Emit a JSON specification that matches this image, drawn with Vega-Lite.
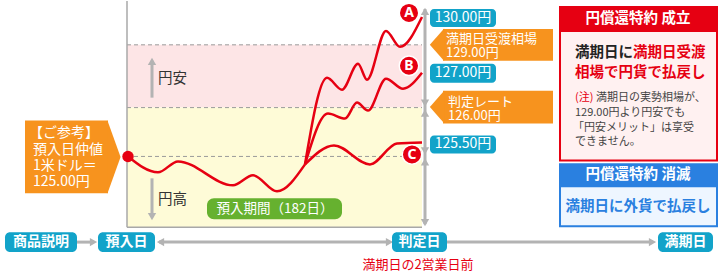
{
  "$schema": "https://vega.github.io/schema/vega-lite/v6.json",
  "width": 720,
  "height": 272,
  "autosize": {"type": "fit", "contains": "padding"},
  "padding": 0,
  "background": "#ffffff",
  "config": {"view": {"stroke": null}, "font": "Noto Sans CJK JP", "text": {"font": "Noto Sans CJK JP"}},
  "encoding": {
    "x": {"field": "x", "type": "quantitative", "scale": {"domain": [0, 720], "nice": false, "zero": false}, "axis": null},
    "y": {"field": "y", "type": "quantitative", "scale": {"domain": [0, 272], "reverse": true, "nice": false, "zero": false}, "axis": null}
  },
  "layer": [
    {"data": {"values": [{"x": 127, "x2": 422, "y": 44, "y2": 107}]},
     "mark": {"type": "rect", "fill": "#fde5e6"},
     "encoding": {"x2": {"field": "x2"}, "y2": {"field": "y2"}}},
    {"data": {"values": [{"x": 127, "x2": 422, "y": 107, "y2": 227}]},
     "mark": {"type": "rect", "fill": "#fefbd7"},
     "encoding": {"x2": {"field": "x2"}, "y2": {"field": "y2"}}},
    {"data": {"values": [{"x": 127, "x2": 422, "y": 44}, {"x": 127, "x2": 422, "y": 107}, {"x": 127, "x2": 422, "y": 156}]},
     "mark": {"type": "rule", "stroke": "#9a9a9a", "strokeWidth": 1, "strokeDash": [4, 3]},
     "encoding": {"x2": {"field": "x2"}}},
    {"data": {"values": [{"x": 127, "y": 0, "x2": 127, "y2": 227}, {"x": 127, "y": 227, "x2": 422, "y2": 227}]},
     "mark": {"type": "rule", "stroke": "#a8a8a8", "strokeWidth": 1.5},
     "encoding": {"x2": {"field": "x2"}, "y2": {"field": "y2"}}},
    {"data": {"values": [
      {"x": 425, "y": 8, "x2": 425, "y2": 224},
      {"x": 152, "y": 60, "x2": 152, "y2": 97},
      {"x": 152, "y": 178, "x2": 152, "y2": 216},
      {"x": 77, "y": 242, "x2": 94, "y2": 242},
      {"x": 159, "y": 242, "x2": 390, "y2": 242},
      {"x": 447, "y": 242, "x2": 653, "y2": 242}
    ]},
     "mark": {"type": "rule", "stroke": "#b3b3b3", "strokeWidth": 3},
     "encoding": {"x2": {"field": "x2"}, "y2": {"field": "y2"}}},
    {"data": {"values": [
      {"x": 425, "y": 10.5, "d": "up"},
      {"x": 425, "y": 102.5, "d": "down"},
      {"x": 425, "y": 112.5, "d": "up"},
      {"x": 425, "y": 150.5, "d": "down"},
      {"x": 425, "y": 161.5, "d": "up"},
      {"x": 425, "y": 222.5, "d": "down"},
      {"x": 152, "y": 60.5, "d": "up"},
      {"x": 152, "y": 216.5, "d": "down"},
      {"x": 93.5, "y": 242, "d": "right"},
      {"x": 160.5, "y": 242, "d": "left"},
      {"x": 389.5, "y": 242, "d": "right"},
      {"x": 652.5, "y": 242, "d": "right"}
    ]},
     "mark": {"type": "point", "filled": true, "fill": "#b3b3b3", "opacity": 1, "size": 70, "strokeWidth": 0},
     "encoding": {"shape": {"field": "d", "type": "nominal", "scale": {"domain": ["up", "down", "left", "right"], "range": ["triangle-up", "triangle-down", "triangle-left", "triangle-right"]}, "legend": null}}},
    {"data": {"values": [
      {"s": "base", "x": 128, "y": 156}, {"s": "base", "x": 158, "y": 172}, {"s": "base", "x": 178, "y": 161},
      {"s": "base", "x": 233, "y": 185}, {"s": "base", "x": 253, "y": 175}, {"s": "base", "x": 277, "y": 191},
      {"s": "base", "x": 305, "y": 164},
      {"s": "A", "x": 305, "y": 164}, {"s": "A", "x": 327, "y": 77}, {"s": "A", "x": 342, "y": 89},
      {"s": "A", "x": 358, "y": 63}, {"s": "A", "x": 367, "y": 79}, {"s": "A", "x": 386, "y": 30},
      {"s": "A", "x": 400, "y": 46}, {"s": "A", "x": 422, "y": 16},
      {"s": "B", "x": 305, "y": 164}, {"s": "B", "x": 328, "y": 113}, {"s": "B", "x": 345, "y": 118},
      {"s": "B", "x": 357, "y": 102}, {"s": "B", "x": 368, "y": 110}, {"s": "B", "x": 386, "y": 78},
      {"s": "B", "x": 403, "y": 88}, {"s": "B", "x": 422, "y": 72},
      {"s": "C", "x": 305, "y": 164}, {"s": "C", "x": 334, "y": 145}, {"s": "C", "x": 370, "y": 164},
      {"s": "C", "x": 397, "y": 143}, {"s": "C", "x": 422, "y": 142}
    ]},
     "mark": {"type": "line", "stroke": "#e60012", "strokeWidth": 2.5, "interpolate": "monotone"},
     "encoding": {"detail": {"field": "s", "type": "nominal"}}},
    {"data": {"values": [{"x": 128, "y": 156}]},
     "mark": {"type": "point", "filled": true, "fill": "#e60012", "opacity": 1, "size": 130, "strokeWidth": 0}},
    {"data": {"values": [{"x": 409, "y": 12, "t": "A"}, {"x": 409, "y": 65, "t": "B"}, {"x": 412, "y": 154, "t": "C"}]},
     "mark": {"type": "point", "shape": "circle", "filled": true, "fill": "#e60012", "opacity": 1, "size": 380, "stroke": "#ffffff", "strokeWidth": 1.5}},
    {"data": {"values": [{"x": 409, "y": 12.5, "t": "A"}, {"x": 409, "y": 65.5, "t": "B"}, {"x": 412, "y": 154.5, "t": "C"}]},
     "mark": {"type": "text", "color": "#ffffff", "fontSize": 14, "fontWeight": "bold", "align": "center", "baseline": "middle", "font": "Noto Sans"},
     "encoding": {"text": {"field": "t"}}},
    {"data": {"values": [
      {"x": 430, "x2": 496, "y": 8, "y2": 26, "cx": 463, "cy": 17, "t": "130.00円"},
      {"x": 430, "x2": 496, "y": 63, "y2": 82, "cx": 463, "cy": 72.5, "t": "127.00円"},
      {"x": 430, "x2": 496, "y": 135, "y2": 153, "cx": 463, "cy": 144, "t": "125.50円"}
    ]},
     "layer": [
       {"mark": {"type": "rect", "fill": "#12a3c9", "cornerRadius": 4},
        "encoding": {"x2": {"field": "x2"}, "y2": {"field": "y2"}}},
       {"mark": {"type": "text", "color": "#ffffff", "fontSize": 14, "align": "center", "baseline": "middle"},
        "encoding": {"x": {"field": "cx", "type": "quantitative"}, "y": {"field": "cy", "type": "quantitative"}, "text": {"field": "t"}}}
     ]},
    {"data": {"values": [
      {"x": 443, "x2": 553, "y": 28, "y2": 60},
      {"x": 443, "x2": 553, "y": 90, "y2": 123},
      {"x": 25, "x2": 108, "y": 120, "y2": 193}
    ]},
     "mark": {"type": "rect", "fill": "#f7931e"},
     "encoding": {"x2": {"field": "x2"}, "y2": {"field": "y2"}}},
    {"data": {"values": [{"x": 437, "y": 44}, {"x": 437, "y": 106.5}]},
     "mark": {"type": "point", "shape": "M-0.44,0L0.44,-1L0.44,1Z", "filled": true, "fill": "#f7931e", "opacity": 1, "size": 1056, "strokeWidth": 0}},
    {"data": {"values": [{"x": 114, "y": 156.5}]},
     "mark": {"type": "point", "shape": "M0.18,0L-0.18,-1L-0.18,1Z", "filled": true, "fill": "#f7931e", "opacity": 1, "size": 5329, "strokeWidth": 0}},
    {"data": {"values": [
      {"x": 446, "y": 38.5, "t": "満期日受渡相場"},
      {"x": 446, "y": 52.5, "t": "129.00円"},
      {"x": 448, "y": 101.5, "t": "判定レート"},
      {"x": 448, "y": 115.5, "t": "126.00円"}
    ]},
     "mark": {"type": "text", "color": "#ffffff", "fontSize": 13, "align": "left", "baseline": "middle"},
     "encoding": {"text": {"field": "t"}}},
    {"data": {"values": [
      {"x": 29, "y": 132.5, "t": "【ご参考】"},
      {"x": 33, "y": 149.5, "t": "預入日仲値"},
      {"x": 33, "y": 166, "t": "1米ドル＝"},
      {"x": 33, "y": 182, "t": "125.00円"}
    ]},
     "mark": {"type": "text", "color": "#ffffff", "fontSize": 14, "align": "left", "baseline": "middle"},
     "encoding": {"text": {"field": "t"}}},
    {"data": {"values": [{"x": 207, "x2": 342, "y": 198, "y2": 219, "cx": 275, "cy": 208.5, "t": "預入期間（182日）"}]},
     "layer": [
       {"mark": {"type": "rect", "fill": "#66b12f", "cornerRadius": 7},
        "encoding": {"x2": {"field": "x2"}, "y2": {"field": "y2"}}},
       {"mark": {"type": "text", "color": "#ffffff", "fontSize": 13.5, "align": "center", "baseline": "middle"},
        "encoding": {"x": {"field": "cx", "type": "quantitative"}, "y": {"field": "cy", "type": "quantitative"}, "text": {"field": "t"}}}
     ]},
    {"data": {"values": [{"x": 158, "y": 78, "t": "円安"}, {"x": 158, "y": 200, "t": "円高"}]},
     "mark": {"type": "text", "color": "#333333", "fontSize": 14.5, "align": "left", "baseline": "middle"},
     "encoding": {"text": {"field": "t"}}},
    {"data": {"values": [
      {"x": 5, "x2": 77, "y": 232, "y2": 252, "cx": 41, "cy": 242, "t": "商品説明"},
      {"x": 98, "x2": 155, "y": 232, "y2": 252, "cx": 126.5, "cy": 242, "t": "預入日"},
      {"x": 392, "x2": 447, "y": 232, "y2": 252, "cx": 419.5, "cy": 242, "t": "判定日"},
      {"x": 658, "x2": 713, "y": 232, "y2": 252, "cx": 685.5, "cy": 242, "t": "満期日"}
    ]},
     "layer": [
       {"mark": {"type": "rect", "fill": "#12a3c9", "cornerRadius": 5},
        "encoding": {"x2": {"field": "x2"}, "y2": {"field": "y2"}}},
       {"mark": {"type": "text", "color": "#ffffff", "fontSize": 14, "fontWeight": "bold", "align": "center", "baseline": "middle"},
        "encoding": {"x": {"field": "cx", "type": "quantitative"}, "y": {"field": "cy", "type": "quantitative"}, "text": {"field": "t"}}}
     ]},
    {"data": {"values": [{"x": 418, "y": 265, "t": "満期日の2営業日前"}]},
     "mark": {"type": "text", "color": "#e60012", "fontSize": 13, "align": "center", "baseline": "middle"},
     "encoding": {"text": {"field": "t"}}},
    {"data": {"values": [{"x": 560, "x2": 717, "y": 6, "y2": 160}]},
     "mark": {"type": "rect", "fill": "#fff1f1", "stroke": "#e60012", "strokeWidth": 2},
     "encoding": {"x2": {"field": "x2"}, "y2": {"field": "y2"}}},
    {"data": {"values": [{"x": 559, "x2": 718, "y": 5, "y2": 31}]},
     "mark": {"type": "rect", "fill": "#e60012"},
     "encoding": {"x2": {"field": "x2"}, "y2": {"field": "y2"}}},
    {"data": {"values": [{"x": 560, "x2": 717, "y": 164, "y2": 226}]},
     "mark": {"type": "rect", "fill": "#eef6ff", "stroke": "#2a80e0", "strokeWidth": 2},
     "encoding": {"x2": {"field": "x2"}, "y2": {"field": "y2"}}},
    {"data": {"values": [{"x": 559, "x2": 718, "y": 163, "y2": 187}]},
     "mark": {"type": "rect", "fill": "#2a80e0"},
     "encoding": {"x2": {"field": "x2"}, "y2": {"field": "y2"}}},
    {"data": {"values": [{"x": 638, "y": 18, "t": "円償還特約 成立"}, {"x": 638, "y": 175, "t": "円償還特約 消滅"}]},
     "mark": {"type": "text", "color": "#ffffff", "fontSize": 14.5, "fontWeight": "bold", "align": "center", "baseline": "middle"},
     "encoding": {"text": {"field": "t"}}},
    {"data": {"values": [{"x": 575, "y": 52, "t": "満期日に"}]},
     "mark": {"type": "text", "color": "#222222", "fontSize": 14.5, "fontWeight": "bold", "align": "left", "baseline": "middle"},
     "encoding": {"text": {"field": "t"}}},
    {"data": {"values": [{"x": 633, "y": 52, "t": "満期日受渡"}, {"x": 575, "y": 72, "t": "相場で円貨で払戻し"}]},
     "mark": {"type": "text", "color": "#e60012", "fontSize": 14.5, "fontWeight": "bold", "align": "left", "baseline": "middle"},
     "encoding": {"text": {"field": "t"}}},
    {"data": {"values": [{"x": 575, "y": 97, "t": "(注)"}]},
     "mark": {"type": "text", "color": "#e60012", "fontSize": 11, "align": "left", "baseline": "middle"},
     "encoding": {"text": {"field": "t"}}},
    {"data": {"values": [
      {"x": 596, "y": 97, "t": "満期日の実勢相場が、"},
      {"x": 575, "y": 112, "t": "129.00円より円安でも"},
      {"x": 573, "y": 127, "t": "「円安メリット」は享受"},
      {"x": 575, "y": 142, "t": "できません。"}
    ]},
     "mark": {"type": "text", "color": "#444444", "fontSize": 11, "align": "left", "baseline": "middle"},
     "encoding": {"text": {"field": "t"}}},
    {"data": {"values": [{"x": 638, "y": 207, "t": "満期日に外貨で払戻し"}]},
     "mark": {"type": "text", "color": "#2a80e0", "fontSize": 14.5, "fontWeight": "bold", "align": "center", "baseline": "middle"},
     "encoding": {"text": {"field": "t"}}}
  ]
}
